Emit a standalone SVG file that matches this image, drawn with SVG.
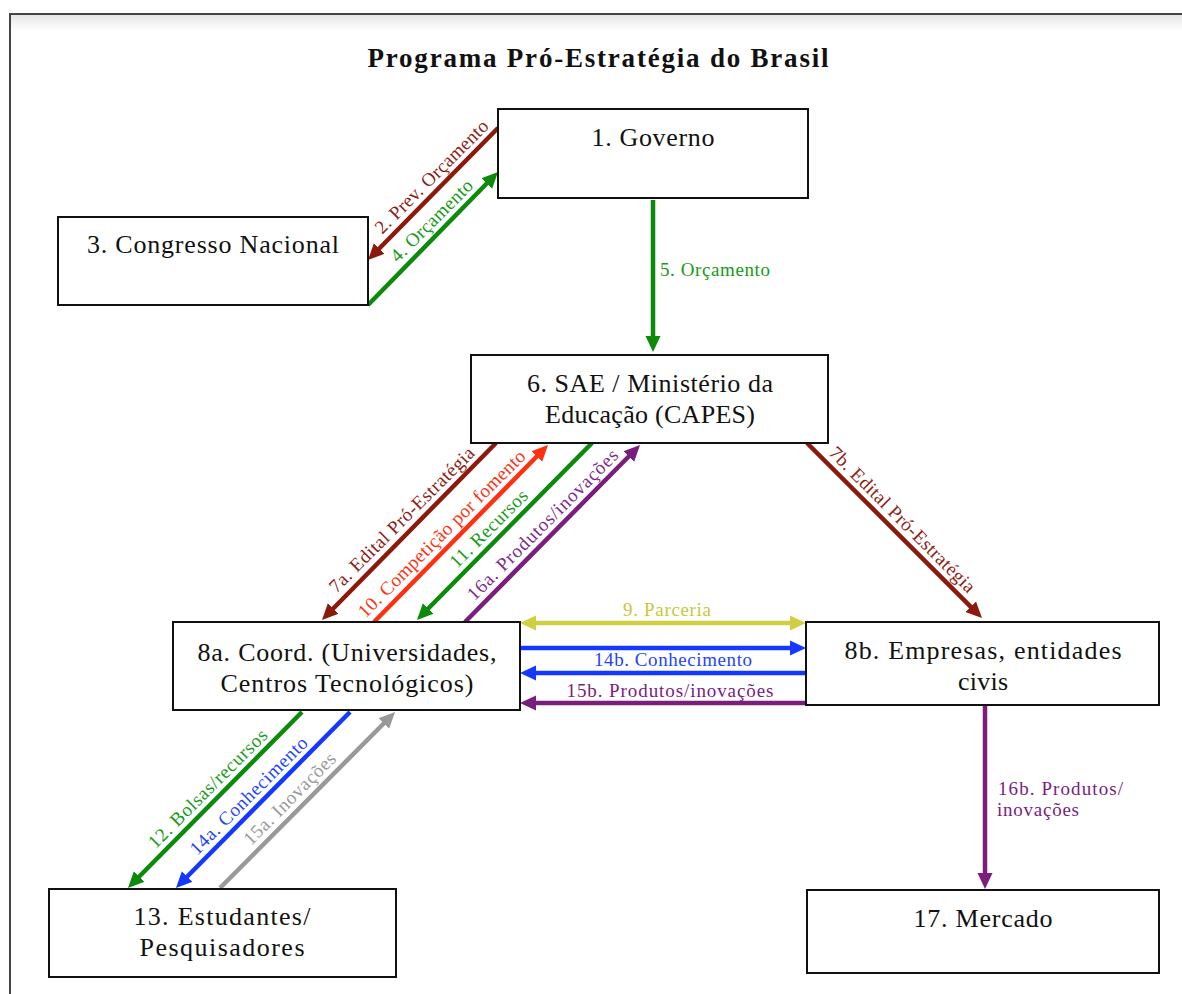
<svg xmlns="http://www.w3.org/2000/svg" width="1182" height="994" viewBox="0 0 1182 994">
<style>
.box{fill:#fff;stroke:#111;stroke-width:2}
.nt{font-family:"Liberation Serif","DejaVu Serif",serif;font-size:26px;fill:#111;text-anchor:middle}
.lt{font-family:"Liberation Serif","DejaVu Serif",serif;font-size:19px;text-anchor:middle}
.ln{fill:none;stroke-width:4.5}
.title{font-family:"Liberation Serif","DejaVu Serif",serif;font-size:27px;font-weight:bold;fill:#111;text-anchor:middle}
</style>
<defs>
<linearGradient id="sh" x1="0" y1="0" x2="0" y2="1">
<stop offset="0" stop-color="#e6e6e6"/>
<stop offset="1" stop-color="#ffffff"/>
</linearGradient>
<marker id="mR" markerUnits="userSpaceOnUse" markerWidth="18" markerHeight="16" refX="2" refY="0" viewBox="0 -8 18 16" orient="auto"><path d="M0,-7.5 L16,0 L0,7.5 z" fill="#8c1a0c"/></marker>
<marker id="mG" markerUnits="userSpaceOnUse" markerWidth="18" markerHeight="16" refX="2" refY="0" viewBox="0 -8 18 16" orient="auto"><path d="M0,-7.5 L16,0 L0,7.5 z" fill="#0b8a0b"/></marker>
<marker id="mO" markerUnits="userSpaceOnUse" markerWidth="18" markerHeight="16" refX="2" refY="0" viewBox="0 -8 18 16" orient="auto"><path d="M0,-7.5 L16,0 L0,7.5 z" fill="#ff3010"/></marker>
<marker id="mP" markerUnits="userSpaceOnUse" markerWidth="18" markerHeight="16" refX="2" refY="0" viewBox="0 -8 18 16" orient="auto"><path d="M0,-7.5 L16,0 L0,7.5 z" fill="#7a1d7c"/></marker>
<marker id="mB" markerUnits="userSpaceOnUse" markerWidth="18" markerHeight="16" refX="2" refY="0" viewBox="0 -8 18 16" orient="auto"><path d="M0,-7.5 L16,0 L0,7.5 z" fill="#1438ff"/></marker>
<marker id="mY" markerUnits="userSpaceOnUse" markerWidth="18" markerHeight="16" refX="2" refY="0" viewBox="0 -8 18 16" orient="auto-start-reverse"><path d="M0,-7.5 L16,0 L0,7.5 z" fill="#cfcf42"/></marker>
<marker id="mK" markerUnits="userSpaceOnUse" markerWidth="18" markerHeight="16" refX="2" refY="0" viewBox="0 -8 18 16" orient="auto"><path d="M0,-7.5 L16,0 L0,7.5 z" fill="#999999"/></marker>
</defs>
<rect x="0" y="0" width="1182" height="994" fill="#fff"/>
<rect x="11" y="15" width="1171" height="16" fill="url(#sh)"/>
<g id="frame" fill="none" stroke="#444" stroke-width="2">
<path d="M10,994 L10,14 L1182,14"/>
</g>
<text class="title" x="598" y="67" textLength="461">Programa Pró-Estratégia do Brasil</text>

<g id="connectors">
<line class="ln" stroke="#8c1a0c" x1="498" y1="128" x2="377.8" y2="250" marker-end="url(#mR)"/>
<line class="ln" stroke="#0b8a0b" x1="368" y1="305" x2="488.2" y2="182" marker-end="url(#mG)"/>
<line class="ln" stroke="#0b8a0b" x1="653" y1="200" x2="653" y2="338" marker-end="url(#mG)"/>
<line class="ln" stroke="#8c1a0c" x1="496" y1="443" x2="331.8" y2="610" marker-end="url(#mR)"/>
<line class="ln" stroke="#ff3010" x1="374" y1="622" x2="538.2" y2="455" marker-end="url(#mO)"/>
<line class="ln" stroke="#0b8a0b" x1="592" y1="443" x2="426.8" y2="610" marker-end="url(#mG)"/>
<line class="ln" stroke="#7a1d7c" x1="465" y1="622" x2="630.2" y2="455" marker-end="url(#mP)"/>
<line class="ln" stroke="#8c1a0c" x1="807" y1="443" x2="972.1" y2="608.1" marker-end="url(#mR)"/>
<line class="ln" stroke="#cfcf42" x1="534" y1="623" x2="792" y2="623" marker-start="url(#mY)" marker-end="url(#mY)"/>
<line class="ln" stroke="#1438ff" x1="520" y1="648" x2="792" y2="648" marker-end="url(#mB)"/>
<line class="ln" stroke="#1438ff" x1="806" y1="673" x2="534" y2="673" marker-end="url(#mB)"/>
<line class="ln" stroke="#7a1d7c" x1="806" y1="703" x2="534" y2="703" marker-end="url(#mP)"/>
<line class="ln" stroke="#0b8a0b" x1="302" y1="712" x2="137.8" y2="878" marker-end="url(#mG)"/>
<line class="ln" stroke="#1438ff" x1="350" y1="712" x2="185.8" y2="878" marker-end="url(#mB)"/>
<line class="ln" stroke="#999999" x1="220" y1="888" x2="385.2" y2="722" marker-end="url(#mK)"/>
<line class="ln" stroke="#7a1d7c" x1="985" y1="705" x2="985" y2="875" marker-end="url(#mP)"/>

<text class="lt" fill="#8c2014" transform="translate(441,186) rotate(-45)" x="0" y="-7" textLength="152">2. Prev. Orçamento</text>
<text class="lt" fill="#169a16" transform="translate(441,230) rotate(-45)" x="0" y="-7" textLength="108">4. Orçamento</text>
<text class="lt" fill="#169a16" x="660" y="276" style="text-anchor:start" textLength="110">5. Orçamento</text>
<text class="lt" fill="#8c2014" transform="translate(411,529) rotate(-45)" x="0" y="-7" textLength="197">7a. Edital Pró-Estratégia</text>
<text class="lt" fill="#ff3010" transform="translate(451,543) rotate(-45)" x="0" y="-7" textLength="228">10. Competição por fomento</text>
<text class="lt" fill="#169a16" transform="translate(498,538) rotate(-45)" x="0" y="-7" textLength="102">11. Recursos</text>
<text class="lt" fill="#7a2a8a" transform="translate(552,534) rotate(-45)" x="0" y="-7" textLength="205">16a. Produtos/inovações</text>
<text class="lt" fill="#8c2014" transform="translate(893,529) rotate(45)" x="0" y="-7" textLength="198">7b. Edital Pró-Estratégia</text>
<text class="lt" fill="#c8c83c" x="667" y="616" textLength="88">9. Parceria</text>
<text class="lt" fill="#2244ff" x="673" y="666" textLength="158">14b. Conhecimento</text>
<text class="lt" fill="#7a1d7c" x="670" y="697" textLength="207">15b. Produtos/inovações</text>
<text class="lt" fill="#169a16" transform="translate(217,798) rotate(-45)" x="0" y="-7" textLength="160">12. Bolsas/recursos</text>
<text class="lt" fill="#2244ff" transform="translate(258,805) rotate(-45)" x="0" y="-7" textLength="158">14a. Conhecimento</text>
<text class="lt" fill="#999999" transform="translate(299,808) rotate(-45)" x="0" y="-7" textLength="122">15a. Inovações</text>
<text class="lt" fill="#7a1d7c" x="998" y="795" style="text-anchor:start" textLength="125">16b. Produtos/</text>
<text class="lt" fill="#7a1d7c" x="997" y="816" style="text-anchor:start" textLength="82">inovações</text>
</g>

<g id="n1">
<rect class="box" x="498" y="109" width="310" height="89"/>
<text class="nt" x="653" y="146" textLength="123">1. Governo</text>
</g>
<g id="n3">
<rect class="box" x="58" y="217" width="310" height="88"/>
<text class="nt" x="213" y="253" textLength="252">3. Congresso Nacional</text>
</g>
<g id="n6">
<rect class="box" x="471" y="355" width="357" height="88"/>
<text class="nt" x="650" y="392" textLength="246">6. SAE / Ministério da</text>
<text class="nt" x="650" y="423" textLength="210">Educação (CAPES)</text>
</g>
<g id="n8a">
<rect class="box" x="173" y="622" width="347" height="88"/>
<text class="nt" x="347" y="661" textLength="299">8a. Coord. (Universidades,</text>
<text class="nt" x="347" y="692" textLength="253">Centros Tecnológicos)</text>
</g>
<g id="n8b">
<rect class="box" x="806" y="622" width="353" height="83"/>
<text class="nt" x="983" y="659" textLength="277">8b. Empresas, entidades</text>
<text class="nt" x="983" y="690" textLength="50">civis</text>
</g>
<g id="n13">
<rect class="box" x="49" y="889" width="347" height="88"/>
<text class="nt" x="222" y="925" textLength="177">13. Estudantes/</text>
<text class="nt" x="222" y="956" textLength="165">Pesquisadores</text>
</g>
<g id="n17">
<rect class="box" x="807" y="890" width="352" height="83"/>
<text class="nt" x="983" y="927" textLength="139">17. Mercado</text>
</g>
</svg>
